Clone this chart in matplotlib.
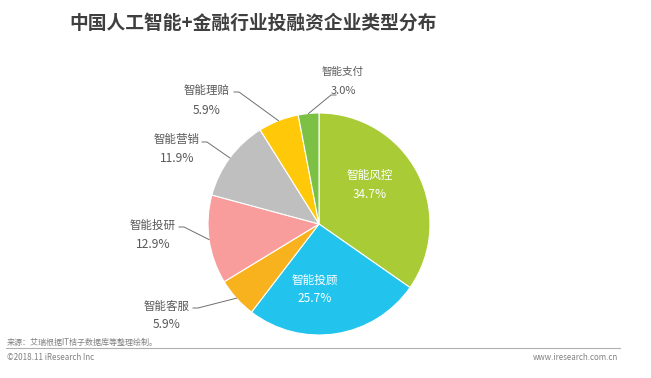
import numpy as np
import matplotlib
matplotlib.use("Agg")
import matplotlib.pyplot as plt

plt.rcParams['font.family'] = ['Noto Sans CJK SC', 'DejaVu Sans']

categories = ['智能风控', '智能投顾', '智能客服', '智能投研', '智能营销', '智能理赔', '智能支付']
values = [34.7, 25.7, 5.9, 12.9, 11.9, 5.9, 3.0]
colors = ['#A9CB36', '#22C4EE', '#F7B21E', '#F99D9C', '#BFBFBF', '#FFC90A', '#7CC144']

title = '中国人工智能+金融行业投融资企业类型分布'
source = '来源：艾瑞根据IT桔子数据库等整理绘制。'
copyright_txt = '©2018.11 iResearch Inc'
website = 'www.iresearch.com.cn'

W, H = 651, 378
fig = plt.figure(figsize=(W / 100, H / 100), dpi=100)
ax = fig.add_axes([0, 0, 1, 1])

def Y(py):
    return H - py

cx, cy, R = 319, 224, 111
wedges, _ = ax.pie(values, colors=colors, startangle=90, counterclock=False,
                   center=(cx, Y(cy)), radius=R,
                   wedgeprops=dict(edgecolor='white', linewidth=0.8))
ax.set_xlim(0, W)
ax.set_ylim(0, H)
ax.set_aspect('equal')
ax.axis('off')

# inside labels (pixel positions: x, name y, pct y)
inside = {0: (370, 175, 195), 1: (315, 280, 299)}
# outside labels: (text center x, name y, pct y, line end x, fontsize)
outside = {
    6: (343, 72, 91, 336, 7.6),
    5: (207, 90, 110, 234, 8.3),
    4: (177, 140, 159, 202, 8.3),
    3: (153, 225, 244, 179, 8.3),
    2: (167, 306, 325, 193, 8.3),
}

txt_col = '#595959'
total = sum(values)
cum = 0
for i, (cat, v) in enumerate(zip(categories, values)):
    mid = cum + v / 2
    cum += v
    ang = np.deg2rad(90 - mid / total * 360)
    if i in inside:
        x, ny, py_ = inside[i]
        ax.text(x, Y(ny), cat, color='white', fontsize=8.4, ha='center', va='center')
        ax.text(x, Y(py_), f'{v:.1f}%', color='white', fontsize=8.6, ha='center', va='center')
    else:
        tx, ny, py_, lx, fs = outside[i]
        ax.text(tx, Y(ny), cat, color=txt_col, fontsize=fs, ha='center', va='center')
        ax.text(tx, Y(py_), f'{v:.1f}%', color=txt_col, fontsize=fs + 0.4, ha='center', va='center')
        px = cx + R * np.cos(ang)
        pyy = Y(cy) + R * np.sin(ang)
        if i == 6:
            ly = ny + 23
            ax.plot([px, lx - 5, lx], [pyy, Y(ly), Y(ly)], color='#6f6f6f', lw=0.7)
        else:
            ly = ny + 2
            ax.plot([px, lx + 5, lx], [pyy, Y(ly), Y(ly)], color='#6f6f6f', lw=0.7)

ax.text(253, Y(23), title, fontsize=13.5, fontweight='bold', color='#3f3f3f',
        ha='center', va='center')

ax.plot([6, 620], [Y(348), Y(348)], color='#B0B0B0', lw=0.8)
ax.text(7, Y(342), source, fontsize=5.8, color='#808080', ha='left', va='center')
ax.text(7, Y(357), copyright_txt, fontsize=5.8, color='#808080', ha='left', va='center')
ax.text(618, Y(358), website, fontsize=5.7, color='#808080', ha='right', va='center')

fig.savefig('out.png', dpi=100)
